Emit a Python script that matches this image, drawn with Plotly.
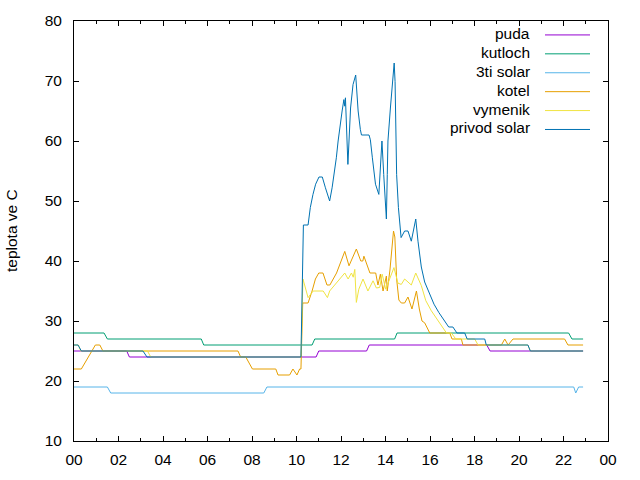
import plotly.graph_objects as go

# ---------------- data (hours of day, temperature in C) ----------------
puda_t = [0, 2.37, 2.49, 10.88, 11.0, 13.15, 13.27, 18.55, 18.7, 22.88]
puda_v = [25, 25, 24, 24, 25, 25, 26, 26, 25, 25]

kutloch_t = [0, 1.35, 1.5, 5.72, 5.83, 10.7, 10.82, 14.41, 14.52, 22.23, 22.38, 22.88]
kutloch_v = [28, 28, 27, 27, 26, 26, 27, 27, 28, 28, 27, 27]

solar3_t = [0, 1.5, 1.65, 8.53, 8.67, 22.46, 22.55, 22.68, 22.88]
solar3_v = [19, 19, 18, 18, 19, 19, 18, 19, 19]

kotel_t = [0, 0.33, 0.96, 1.16, 1.3, 7.37, 7.49, 7.72, 8.02, 9.07, 9.17, 9.69, 9.84,
           10.02, 10.14, 10.2, 10.28, 10.52, 10.7, 10.85, 11.0, 11.19, 11.37, 11.5,
           11.8, 12.17, 12.36, 12.69, 12.89, 12.98, 13.03, 13.3, 13.56, 13.66, 13.77,
           13.89, 14.04, 14.08, 14.2, 14.28, 14.36, 14.42, 14.5, 14.6, 14.71, 14.86,
           15.01, 15.19, 15.39, 15.52, 15.64, 15.76, 15.91, 15.99, 16.89, 16.99,
           17.41, 17.48, 19.21, 19.36, 19.51, 19.73, 22.05, 22.2, 22.88]
kotel_v = [22, 22, 26, 26, 25, 25, 24, 24, 22, 22, 21, 21, 22,
           21, 22, 22, 33, 33, 35, 37, 38, 38, 36, 36,
           38, 41.6, 39.2, 42, 40, 40, 40.8, 38, 38, 36, 37.8,
           35, 37.5, 35, 38.5, 42, 45, 44, 37, 33.5, 33, 33,
           34, 32, 35, 32, 30, 29.7, 28.7, 28, 28, 27,
           27, 26, 26, 27, 26, 27, 27, 26, 26]

vymenik_t = [0, 0.2, 0.3, 3.3, 3.45, 10.2, 10.29, 10.52, 10.75, 11.2, 11.39, 11.49,
             12.17, 12.32, 12.47, 12.55, 12.62, 12.69, 12.8, 12.99, 13.21, 13.44,
             13.59, 13.74, 13.85, 14.01, 14.38, 14.56, 14.71, 14.86, 15.16, 15.36,
             15.61, 15.81, 16.06, 16.36, 16.58, 16.74, 16.96, 17.16, 18.01, 18.16,
             20.4, 20.51, 22.88]
vymenik_v = [26, 26, 25, 25, 24, 24, 37, 33.9, 35, 35, 33.9, 35,
             38, 37, 38, 37.3, 38.6, 33.1, 35.3, 37, 35, 36.7,
             35.5, 35.6, 37.8, 35.3, 38.9, 36.3, 36.1, 37, 36, 38,
             35.9, 33.4, 31.7, 30, 28.9, 28, 28, 27, 27, 26,
             26, 25, 25]

privod_t = [0, 0.18, 0.33, 3.1, 3.28, 10.2, 10.26, 10.31, 10.52, 10.62, 10.74, 10.86,
            11.01, 11.16, 11.3, 11.42, 11.49, 11.6, 11.69, 11.79, 11.87, 11.94, 12.05,
            12.13, 12.17, 12.2, 12.25, 12.31, 12.43, 12.54, 12.66, 12.72, 12.77, 12.87,
            12.92, 13.26, 13.32, 13.41, 13.47, 13.55, 13.7, 13.77, 13.84, 13.92, 14.0,
            14.04, 14.08, 14.11, 14.22, 14.31, 14.39, 14.43, 14.46, 14.5, 14.58, 14.7,
            14.86, 15.01, 15.16, 15.25, 15.36, 15.46, 15.61, 15.76, 15.99, 16.18, 16.4,
            16.66, 16.84, 17.03, 17.21, 17.56, 17.67, 18.46, 18.53, 20.4, 20.51, 22.88]
privod_v = [26, 26, 25, 25, 24, 24, 36, 46, 46, 48.9, 51.1, 52.8,
            54, 54, 52.2, 50.5, 50, 52.2, 54.4, 57.2, 60, 62.2, 65,
            66.9, 65.8, 67.2, 62, 56.1, 65.5, 69.4, 71, 67.7, 65, 61.9,
            61, 61, 60.2, 57.2, 55.5, 52.8, 51.1, 55.5, 60, 54.4, 48.9,
            47, 54.4, 60, 65.5, 69.9, 73, 69.9, 60, 54.4, 48.9, 43.9,
            45, 45, 43.3, 45, 47, 43.3, 39, 36.5, 34.5, 32.8, 31.4,
            30.1, 29, 29, 28, 28, 27, 27, 26, 26, 25, 25]

series_names = ["puda", "kutloch", "3ti solar", "kotel", "vymenik", "privod solar"]
series_t = [puda_t, kutloch_t, solar3_t, kotel_t, vymenik_t, privod_t]
series_v = [puda_v, kutloch_v, solar3_v, kotel_v, vymenik_v, privod_v]
series_colors = ["#9400d3", "#009e73", "#56b4e9", "#e69f00", "#f0e442", "#0072b2"]

x_tickvals = [0, 2, 4, 6, 8, 10, 12, 14, 16, 18, 20, 22, 24]
x_ticktext = ["00", "02", "04", "06", "08", "10", "12", "14", "16", "18", "20", "22", "00"]
y_tickvals = [10, 20, 30, 40, 50, 60, 70, 80]
y_title = "teplota ve C"

# ---------------- figure ----------------
W, H = 640, 480
ML, MR, MT, MB = 74, 32, 19, 39
FONT = "Liberation Sans, Arial, sans-serif"
FS = 15.5

fig = go.Figure()
for name, t, v, c in zip(series_names, series_t, series_v, series_colors):
    fig.add_trace(go.Scatter(x=t, y=v, mode="lines", name=name,
                             line=dict(color=c, width=1), showlegend=False,
                             hoverinfo="skip"))

axis_common = dict(showline=True, linecolor="black", linewidth=1, mirror="ticks",
                   ticks="inside", tickcolor="black", ticklen=5, tickwidth=1,
                   showgrid=False, zeroline=False,
                   tickfont=dict(family=FONT, size=FS, color="black"))

fig.update_xaxes(range=[0, 24], tickmode="array", tickvals=x_tickvals, ticktext=x_ticktext,
                 minor=dict(dtick=1, ticks="inside", ticklen=3, tickcolor="black", showgrid=False),
                 ticklabelstandoff=4, **axis_common)
fig.update_yaxes(range=[10, 80], tickmode="array", tickvals=y_tickvals,
                 ticklabelstandoff=8, **axis_common)

plot_w = W - ML - MR
plot_h = H - MT - MB

annotations = [dict(text=y_title, xref="paper", yref="paper",
                    x=(11 - ML) / plot_w, y=0.5, textangle=-90, showarrow=False,
                    xanchor="center", yanchor="middle",
                    font=dict(family=FONT, size=FS, color="black"))]
shapes = []
# custom gnuplot-style legend (text right-aligned, sample line on the right)
leg_text_right = 532
leg_line_x0, leg_line_x1 = 545, 590
leg_top, leg_step = 31.5, 19
for i, (name, c) in enumerate(zip(series_names, series_colors)):
    ypx = leg_top + i * leg_step
    yp = (H - MB - ypx) / plot_h
    annotations.append(dict(text=name, xref="paper", yref="paper",
                            x=(leg_text_right - ML) / plot_w, y=yp,
                            xanchor="right", yanchor="middle", showarrow=False,
                            font=dict(family=FONT, size=FS, color="black")))
    shapes.append(dict(type="line", xref="paper", yref="paper",
                       x0=(leg_line_x0 - ML) / plot_w, x1=(leg_line_x1 - ML) / plot_w,
                       y0=(H - MB - ypx - 1.5) / plot_h, y1=(H - MB - ypx - 1.5) / plot_h,
                       line=dict(color=c, width=1)))

fig.update_layout(width=W, height=H, margin=dict(l=ML, r=MR, t=MT, b=MB),
                  paper_bgcolor="white", plot_bgcolor="white",
                  annotations=annotations, shapes=shapes, showlegend=False,
                  font=dict(family=FONT, size=FS, color="black"))

fig.write_html("out.html")
